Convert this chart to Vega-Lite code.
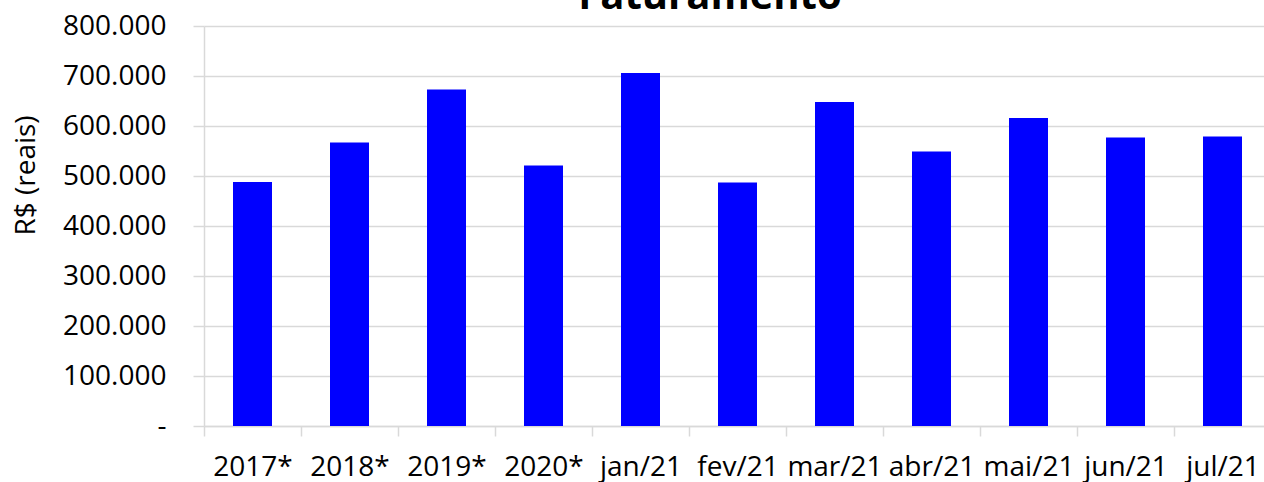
{
  "$schema": "https://vega.github.io/schema/vega-lite/v6.json",
  "width": 1060,
  "height": 400,
  "autosize": {"type": "none"},
  "padding": {"left": 204, "top": 26, "right": 0, "bottom": 56},
  "background": "white",
  "title": {
    "text": "Faturamento",
    "font": "Open Sans",
    "fontSize": 40,
    "fontWeight": "bold",
    "color": "black",
    "anchor": "middle",
    "frame": "group",
    "dx": -24,
    "baseline": "alphabetic",
    "offset": -37
  },
  "data": {
    "values": [
      {"periodo": "2017*", "valor": 488000},
      {"periodo": "2018*", "valor": 567000},
      {"periodo": "2019*", "valor": 673000},
      {"periodo": "2020*", "valor": 521000},
      {"periodo": "jan/21", "valor": 706000},
      {"periodo": "fev/21", "valor": 487000},
      {"periodo": "mar/21", "valor": 648000},
      {"periodo": "abr/21", "valor": 549000},
      {"periodo": "mai/21", "valor": 616000},
      {"periodo": "jun/21", "valor": 577000},
      {"periodo": "jul/21", "valor": 579000}
    ]
  },
  "mark": {"type": "bar", "width": 39, "color": "#0000ff"},
  "encoding": {
    "x": {
      "field": "periodo",
      "type": "nominal",
      "sort": null,
      "scale": {"range": [0, 1067], "paddingInner": 0, "paddingOuter": 0},
      "axis": {
        "title": null,
        "labelAngle": 0,
        "labelFont": "Open Sans",
        "labelFontSize": 28,
        "labelColor": "black",
        "tickBand": "extent",
        "tickSize": 10,
        "tickColor": "#d9d9d9",
        "tickWidth": 1.5,
        "domainColor": "#d9d9d9",
        "domainWidth": 1.5,
        "labelPadding": 17,
        "labelOverlap": false,
        "labelBound": false
      }
    },
    "y": {
      "field": "valor",
      "type": "quantitative",
      "scale": {"domain": [0, 800000], "nice": false},
      "axis": {
        "title": "R$ (reais)",
        "titleFont": "Open Sans",
        "titleFontSize": 28,
        "titleFontWeight": "normal",
        "titleColor": "black",
        "titleAngle": 270,
        "titleX": -170,
        "titleY": 149,
        "titleAlign": "center",
        "titleBaseline": "alphabetic",
        "values": [0, 100000, 200000, 300000, 400000, 500000, 600000, 700000, 800000],
        "labelExpr": "datum.value == 0 ? '-\u00a0\u00a0' : format(datum.value / 1000, 'd') + '.000'",
        "labelFont": "Open Sans",
        "labelFontSize": 28,
        "labelColor": "black",
        "labelPadding": 27,
        "labelOverlap": false,
        "tickSize": 11,
        "tickColor": "#d9d9d9",
        "tickWidth": 1.5,
        "gridColor": "#d9d9d9",
        "gridWidth": 1.5,
        "domainColor": "#d9d9d9",
        "domainWidth": 1.5
      }
    }
  },
  "config": {"view": {"stroke": null}}
}
